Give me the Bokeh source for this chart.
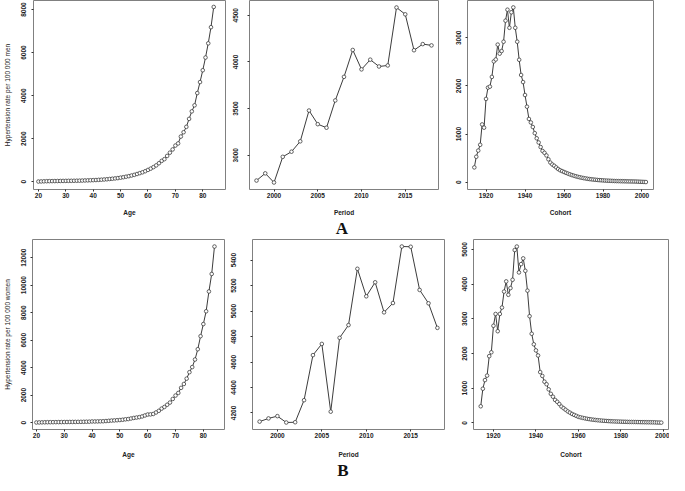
from bokeh.plotting import figure
from bokeh.layouts import column, row
from bokeh.models import FixedTicker, Range1d
from bokeh.core.properties import value
from bokeh.embed import file_html
from bokeh.resources import INLINE

# ---------------- data ----------------
age = list(range(20, 85))
men_age = [10, 15, 20, 25, 28, 30, 32, 34, 36, 38,
           40, 42, 44, 46, 48, 50, 55, 60, 65, 70,
           75, 80, 88, 95, 105, 115, 128, 140, 155, 170,
           190, 210, 235, 260, 290, 320, 360, 400, 440, 490,
           550, 610, 680, 760, 860, 970, 1050, 1200, 1350, 1500,
           1680, 1780, 2100, 2300, 2550, 2920, 3270, 3550, 4120, 4630,
           5180, 5770, 6430, 7180, 8120]
women_age = [10, 15, 20, 25, 30, 32, 34, 36, 38, 40,
             42, 45, 48, 50, 52, 55, 58, 60, 65, 70,
             85, 85, 90, 95, 100, 115, 130, 150, 160, 175,
             190, 210, 240, 260, 300, 340, 370, 400, 450, 520,
             590, 600, 630, 740, 860, 1020, 1140, 1300, 1460, 1720,
             1970, 2160, 2530, 2810, 3200, 3670, 4040, 4590, 5340, 6290,
             7170, 8100, 9540, 10815, 12810]

period = list(range(1998, 2019))
men_period = [2729, 2806, 2708, 2983, 3038, 3149, 3479, 3333, 3295, 3587,
              3840, 4128, 3920, 4024, 3951, 3962, 4583, 4510, 4125, 4191, 4177]
women_period = [4132, 4157, 4175, 4125, 4127, 4300, 4654, 4742, 4210, 4790,
                4890, 5332, 5116, 5226, 4990, 5063, 5507, 5505, 5166, 5061, 4868]

men_cohort = [309, 530, 658, 778, 1201, 1134, 1731, 1966, 1986, 2188,
              2510, 2550, 2859, 2671, 2725, 2919, 3356, 3584, 3208, 3530,
              3631, 3208, 2919, 2544, 2228, 2081, 1812, 1570, 1315, 1242,
              1148, 1020, 913, 826, 732, 651, 611, 557, 477, 409,
              369, 342, 309, 275, 250, 232, 214, 196, 180, 165,
              150, 137, 125, 114, 104, 95, 87, 80, 73, 67,
              62, 57, 53, 49, 45, 42, 39, 36, 34, 32,
              30, 28, 26, 25, 24, 23, 22, 21, 20, 19,
              18, 17, 16, 15, 13, 11, 9, 7, 5]
men_cohort_years = list(range(1914, 1914 + len(men_cohort)))

women_cohort = [479, 985, 1234, 1363, 1924, 2035, 2799, 3140, 2643, 3140,
                3324, 3785, 4079, 3692, 3886, 4125, 4982, 5083, 4337, 4576,
                4742, 4383, 3812, 3076, 2569, 2265, 2090, 1943, 1464, 1354,
                1188, 1114, 967, 838, 755, 663, 608, 543, 470, 424,
                378, 331, 295, 258, 230, 203, 175, 160, 145, 132,
                120, 110, 100, 92, 85, 78, 72, 66, 61, 57,
                53, 49, 46, 43, 40, 38, 36, 34, 32, 30,
                28, 27, 26, 25, 24, 23, 22, 21, 20, 19,
                18, 17, 15, 12, 10, 8]
women_cohort_years = list(range(1914, 1914 + len(women_cohort)))

age_ticks = [20, 30, 40, 50, 60, 70, 80]
period_ticks = [2000, 2005, 2010, 2015]
cohort_ticks = [1920, 1940, 1960, 1980, 2000]
men_age_yticks = [0, 2000, 4000, 6000, 8000]
women_age_yticks = [0, 2000, 4000, 6000, 8000, 10000, 12000]
men_period_yticks = [3000, 3500, 4000, 4500]
women_period_yticks = [4200, 4400, 4600, 4800, 5000, 5200, 5400]
men_cohort_yticks = [0, 1000, 2000, 3000]
women_cohort_yticks = [0, 1000, 2000, 3000, 4000, 5000]
panel_letters = ["A", "B"]

LINE = "#3c3c3c"
FONT = "Liberation Sans"
TOTAL_W = 669


def panel(x, y, xr, yr, xticks, yticks, xlabel, ylabel, fw, fh,
          bl, br, bt, bb, ytick_stand, xlab_stand):
    p = figure(frame_width=fw, frame_height=fh,
               x_range=Range1d(*xr), y_range=Range1d(*yr),
               output_backend="svg", toolbar_location=None,
               min_border_left=bl, min_border_right=br,
               min_border_top=bt, min_border_bottom=bb)
    p.line(x, y, line_color=LINE, line_width=1)
    p.scatter(x, y, marker="circle", size=3.6, line_color=LINE,
              fill_color="white", line_width=0.8)
    p.grid.visible = False
    p.outline_line_color = "#808080"
    p.outline_line_width = 1
    p.background_fill_color = "white"
    p.border_fill_color = "white"
    p.xaxis.ticker = FixedTicker(ticks=xticks, minor_ticks=[])
    p.yaxis.ticker = FixedTicker(ticks=yticks, minor_ticks=[])
    for ax in (p.xaxis[0], p.yaxis[0]):
        ax.axis_line_color = None
        ax.major_tick_out = 2
        ax.major_tick_in = 0
        ax.minor_tick_line_color = None
        ax.major_tick_line_color = "#333333"
        ax.major_label_text_font = FONT
        ax.major_label_text_font_size = "6.5px"
        ax.major_label_text_font_style = "bold"
        ax.major_label_text_color = "#222222"
        ax.axis_label_text_font = FONT
        ax.axis_label_text_color = "#222222"
    p.xaxis.major_label_standoff = 1
    p.yaxis.major_label_standoff = ytick_stand
    p.yaxis.major_label_orientation = "vertical"
    p.xaxis.axis_label = xlabel
    p.xaxis.axis_label_text_font_size = "6.5px"
    p.xaxis.axis_label_text_font_style = "bold"
    p.xaxis.axis_label_standoff = xlab_stand
    if ylabel:
        p.yaxis.axis_label = ylabel
        p.yaxis.axis_label_text_font_size = "6.5px"
        p.yaxis.axis_label_text_font_style = "normal"
        p.yaxis.axis_label_standoff = 8
    return p


def strip(txt, h, cx):
    s = figure(width=TOTAL_W, height=h, x_range=Range1d(0, TOTAL_W), y_range=Range1d(0, h),
               x_axis_type=None, y_axis_type=None, output_backend="svg",
               toolbar_location=None, min_border=0)
    s.grid.visible = False
    s.outline_line_color = None
    s.text(x=[cx], y=[h / 2.0], text=[txt], text_align="center", text_baseline="middle",
           text_font=value("Liberation Serif"), text_font_size="17px",
           text_font_style="bold", text_color="#111111")
    return s


p1 = panel(age, men_age, (18.2, 88.3), (-360, 8420), age_ticks, men_age_yticks,
           "Age", "Hypertension rate per 100 000 men", 192, 189, 32, 4, 0, 27, 5, 8)
p2 = panel(period, men_period, (1997.2, 2018.8), (2633, 4658), period_ticks,
           men_period_yticks, "Period", None, 189, 189, 20, 11, 0, 27, 9, 8)
p3 = panel(men_cohort_years, men_cohort, (1910.5, 2005.9), (-150, 3775), cohort_ticks,
           men_cohort_yticks, "Cohort", None, 186, 189, 18, 17, 0, 27, 4, 8)

p4 = panel(age, women_age, (18.6, 87.6), (-500, 13322), age_ticks, women_age_yticks,
           "Age", "Hypertension rate per 100 000 women", 192, 190, 32, 4, 1, 29, 4, 10)
p5 = panel(period, women_period, (1997.2, 2018.8), (4070, 5562), period_ticks,
           women_period_yticks, "Period", None, 192, 190, 24, 9, 1, 29, 14, 10)
p6 = panel(women_cohort_years, women_cohort, (1910.6, 2002.4), (-190, 5286), cohort_ticks,
           women_cohort_yticks, "Cohort", None, 195, 190, 20, 1, 1, 29, 4, 10)

sA = strip(panel_letters[0], 20, 341.5)
sB = strip(panel_letters[1], 19, 342.5)

layout = column(row(p1, p2, p3, spacing=0), sA,
                row(p4, p5, p6, spacing=0), sB, spacing=0)
open("out.html", "w").write(file_html(layout, INLINE))
